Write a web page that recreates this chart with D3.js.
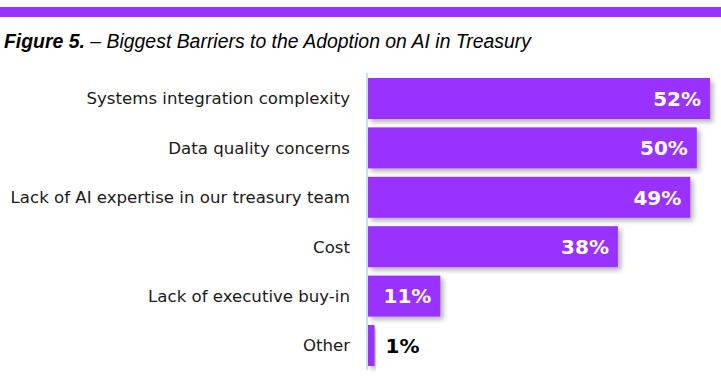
<!DOCTYPE html>
<html><head><meta charset="utf-8">
<script src="https://cdn.jsdelivr.net/npm/d3@7"></script>
<style>body{margin:0;background:#fff}svg{display:block}</style>
</head><body>
<svg id="c" width="721" height="380"></svg>
<script>
const categories = ["Systems integration complexity","Data quality concerns","Lack of AI expertise in our treasury team","Cost","Lack of executive buy-in","Other"];
const values = [52,50,49,38,11,1];
const valueLabels = ["52%","50%","49%","38%","11%","1%"];
const titleBold = "Figure 5.";
const titleRest = " \u2013 Biggest Barriers to the Adoption on AI in Treasury";

const svg = d3.select("#c");
const purple = "#9933ff";
const defs = svg.append("defs");
const f = defs.append("filter").attr("id","sh").attr("x","-10%").attr("y","-20%").attr("width","130%").attr("height","160%");
f.append("feDropShadow").attr("dx",3).attr("dy",3).attr("stdDeviation",2.5).attr("flood-color","#000").attr("flood-opacity",0.3);

svg.append("rect").attr("x",0).attr("y",7).attr("width",721).attr("height",10).attr("fill",purple);

const t = svg.append("text").attr("transform","translate(4,48) scale(0.925,1)")
  .style("font-family","'Liberation Sans Narrow','Arial Narrow','Liberation Sans',sans-serif")
  .style("font-style","italic").style("font-size","21px").attr("fill","#000");
t.append("tspan").style("font-weight","bold").text(titleBold);
t.append("tspan").text(titleRest);

const x0 = 368;
const x = d3.scaleLinear().domain([0,52]).range([x0,710]);
const y = d3.scaleBand().domain(categories).range([78,366]).paddingInner(0.17).paddingOuter(0);

svg.append("line").attr("x1",x0-1).attr("x2",x0-1).attr("y1",73).attr("y2",370)
  .attr("stroke","#cfdff0").attr("stroke-width",2);

svg.selectAll("rect.bar").data(values).join("rect").attr("class","bar")
  .attr("x",x0).attr("y",(d,i)=>y(categories[i]))
  .attr("width",d=>x(d)-x0).attr("height",y.bandwidth())
  .attr("fill",purple).attr("filter","url(#sh)");

svg.selectAll("text.cat").data(categories).join("text").attr("class","cat")
  .attr("x",350).attr("y",d=>y(d)+y.bandwidth()/2).attr("dy","0.35em")
  .attr("text-anchor","end").style("font-family","'DejaVu Sans',sans-serif")
  .style("font-size","16.6px").attr("fill","#1a1a1a").text(d=>d);

svg.selectAll("text.val").data(values).join("text").attr("class","val")
  .attr("x",(d)=> d>5 ? x(d)-9 : x(d)+11)
  .attr("y",(d,i)=>y(categories[i])+y.bandwidth()/2).attr("dy","0.36em")
  .attr("text-anchor",d=> d>5 ? "end":"start")
  .style("font-family","'DejaVu Sans',sans-serif").style("font-weight","bold")
  .style("font-size","20px").attr("fill",d=> d>5 ? "#fff":"#000")
  .text((d,i)=>valueLabels[i]);
</script>
</body></html>
